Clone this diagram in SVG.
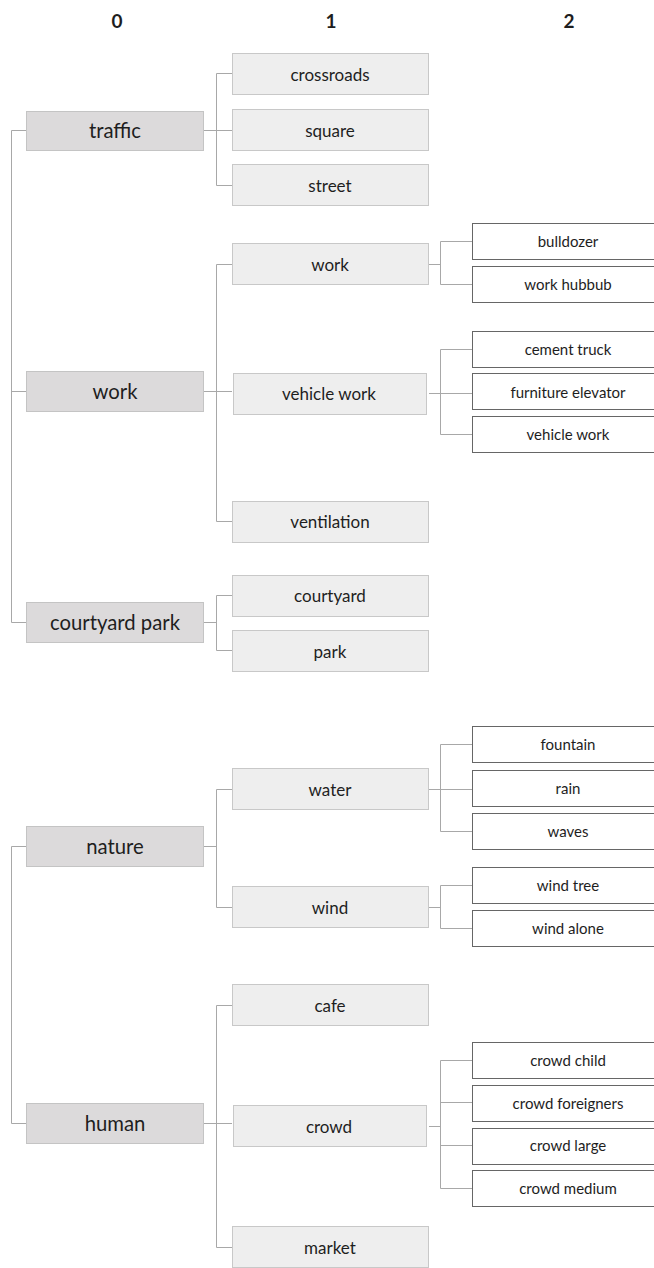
<svg xmlns="http://www.w3.org/2000/svg" width="654" height="1268" viewBox="0 0 654 1268">
<style>
text{font-family:Lato,"Open Sans","Liberation Sans",sans-serif;text-anchor:middle;dominant-baseline:central;fill:#1e1e1e}
.h{font-size:19px;font-weight:bold}
.l0 rect{fill:#dcdadb;stroke:#c4c4c4;stroke-width:1}
.l0 text{font-size:20.3px}
.l1 rect{fill:#eeeeee;stroke:#c8c8c8;stroke-width:1}
.l1 text{font-size:17px}
.l2 rect{fill:#ffffff;stroke:#666666;stroke-width:1}
.l2 text{font-size:15px}
#connectors path{fill:none;stroke:#a8a8a8;stroke-width:1}
</style>
<rect width="654" height="1268" fill="#ffffff"/>
<g id="headers">
<text class="h" x="117" y="20">0</text>
<text class="h" x="331" y="20">1</text>
<text class="h" x="569" y="20">2</text>
</g>
<g id="connectors">
<path d="M27 130.5H11.5V622.5H27M11.5 391.5H27"/>
<path d="M27 846.5H11.5V1123.5H27"/>
<path d="M204 130.5H232M216.5 73.5V185.5M216.5 73.5H232M216.5 185.5H232"/>
<path d="M204 391.5H232M216.5 264.5V521.5M216.5 264.5H232M216.5 521.5H232"/>
<path d="M204 622.5H216.5M216.5 595.5V650.5M216.5 595.5H232M216.5 650.5H232"/>
<path d="M204 846.5H216.5M216.5 789.5V907.5M216.5 789.5H232M216.5 907.5H232"/>
<path d="M204 1123.5H232M216.5 1005.5V1247.5M216.5 1005.5H232M216.5 1247.5H232"/>
<path d="M429 264.5H440.5M440.5 241.5V284.5M440.5 241.5H473M440.5 284.5H473"/>
<path d="M429 393.5H473M440.5 349.5V434.5M440.5 349.5H473M440.5 434.5H473"/>
<path d="M429 789.5H473M440.5 744.5V831.5M440.5 744.5H473M440.5 831.5H473"/>
<path d="M429 907.5H440.5M440.5 885.5V928.5M440.5 885.5H473M440.5 928.5H473"/>
<path d="M429 1126.5H440.5M440.5 1060.5V1188.5M440.5 1060.5H473M440.5 1102.5H473M440.5 1145.5H473M440.5 1188.5H473"/>
</g>
<g id="n-traffic" class="l0"><rect x="26.5" y="111.5" width="177" height="39"/><text x="115" y="130">traffic</text></g>
<g id="n-work" class="l0"><rect x="26.5" y="371.5" width="177" height="40"/><text x="115" y="391">work</text></g>
<g id="n-courtyard-park" class="l0"><rect x="26.5" y="602.5" width="177" height="40"/><text x="115" y="622">courtyard park</text></g>
<g id="n-nature" class="l0"><rect x="26.5" y="826.5" width="177" height="40"/><text x="115" y="846">nature</text></g>
<g id="n-human" class="l0"><rect x="26.5" y="1103.5" width="177" height="40"/><text x="115" y="1123">human</text></g>

<g id="n-crossroads" class="l1"><rect x="232.5" y="53.5" width="196" height="41"/><text x="330" y="74">crossroads</text></g>
<g id="n-square" class="l1"><rect x="232.5" y="109.5" width="196" height="41"/><text x="330" y="130">square</text></g>
<g id="n-street" class="l1"><rect x="232.5" y="164.5" width="196" height="41"/><text x="330" y="185">street</text></g>
<g id="n-work1" class="l1"><rect x="232.5" y="243.5" width="196" height="41"/><text x="330" y="264">work</text></g>
<g id="n-vehicle-work" class="l1"><rect x="233.5" y="373.5" width="193" height="41"/><text x="329" y="393">vehicle work</text></g>
<g id="n-ventilation" class="l1"><rect x="232.5" y="501.5" width="196" height="41"/><text x="330" y="521">ventilation</text></g>
<g id="n-courtyard" class="l1"><rect x="232.5" y="575.5" width="196" height="41"/><text x="330" y="595">courtyard</text></g>
<g id="n-park" class="l1"><rect x="232.5" y="630.5" width="196" height="41"/><text x="330" y="651">park</text></g>
<g id="n-water" class="l1"><rect x="232.5" y="768.5" width="196" height="41"/><text x="330" y="789">water</text></g>
<g id="n-wind" class="l1"><rect x="232.5" y="886.5" width="196" height="41"/><text x="330" y="907">wind</text></g>
<g id="n-cafe" class="l1"><rect x="232.5" y="984.5" width="196" height="41"/><text x="330" y="1005">cafe</text></g>
<g id="n-crowd" class="l1"><rect x="233.5" y="1105.5" width="193" height="41"/><text x="329" y="1126">crowd</text></g>
<g id="n-market" class="l1"><rect x="232.5" y="1226.5" width="196" height="41"/><text x="330" y="1247">market</text></g>

<g id="n-bulldozer" class="l2"><rect x="472.5" y="223.5" width="200" height="36"/><text x="568" y="241">bulldozer</text></g>
<g id="n-work-hubbub" class="l2"><rect x="472.5" y="266.5" width="200" height="36"/><text x="568" y="284">work hubbub</text></g>
<g id="n-cement-truck" class="l2"><rect x="472.5" y="331.5" width="200" height="36"/><text x="568" y="349">cement truck</text></g>
<g id="n-furniture-elevator" class="l2"><rect x="472.5" y="373.5" width="200" height="36"/><text x="568" y="392">furniture elevator</text></g>
<g id="n-vehicle-work2" class="l2"><rect x="472.5" y="416.5" width="200" height="36"/><text x="568" y="434">vehicle work</text></g>
<g id="n-fountain" class="l2"><rect x="472.5" y="726.5" width="200" height="36"/><text x="568" y="744">fountain</text></g>
<g id="n-rain" class="l2"><rect x="472.5" y="770.5" width="200" height="36"/><text x="568" y="788">rain</text></g>
<g id="n-waves" class="l2"><rect x="472.5" y="813.5" width="200" height="36"/><text x="568" y="831">waves</text></g>
<g id="n-wind-tree" class="l2"><rect x="472.5" y="867.5" width="200" height="36"/><text x="568" y="885">wind tree</text></g>
<g id="n-wind-alone" class="l2"><rect x="472.5" y="910.5" width="200" height="36"/><text x="568" y="928">wind alone</text></g>
<g id="n-crowd-child" class="l2"><rect x="472.5" y="1042.5" width="200" height="36"/><text x="568" y="1060">crowd child</text></g>
<g id="n-crowd-foreigners" class="l2"><rect x="472.5" y="1085.5" width="200" height="36"/><text x="568" y="1103">crowd foreigners</text></g>
<g id="n-crowd-large" class="l2"><rect x="472.5" y="1128.5" width="200" height="36"/><text x="568" y="1145">crowd large</text></g>
<g id="n-crowd-medium" class="l2"><rect x="472.5" y="1170.5" width="200" height="36"/><text x="568" y="1188">crowd medium</text></g>
</svg>
